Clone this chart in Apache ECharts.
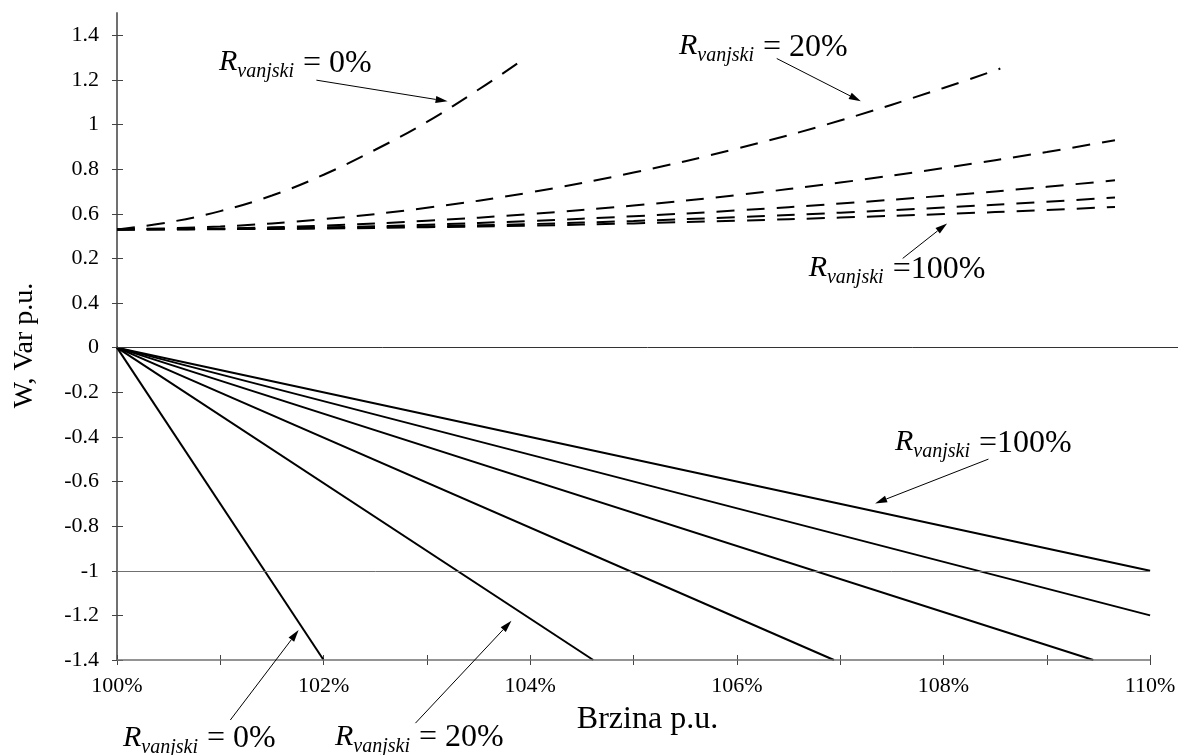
<!DOCTYPE html>
<html>
<head>
<meta charset="utf-8">
<script src="https://cdn.jsdelivr.net/npm/echarts@6/dist/echarts.min.js"></script>
<style>
    html, body { margin: 0; padding: 0; background: #fff; }
    #main { width: 1185px; height: 755px; }
</style>
</head>
<body>
<div id="main"></div>
<script>
// jalova snaga (isprekidano) - brzina u %, vrijednost u p.u.
const speedQ0 = [100, 100.5, 101, 101.5, 102, 102.5, 103, 103.5, 103.88];
const varQ0 = [0.53, 0.562, 0.612, 0.682, 0.775, 0.887, 1.012, 1.157, 1.275];
const speedQ20 = [100, 101, 102, 103, 104, 105, 106, 107, 108, 108.55];
const varQ20 = [0.53, 0.543, 0.576, 0.627, 0.696, 0.785, 0.892, 1.018, 1.164, 1.251];
const speedQrest = [100, 101, 102, 103, 104, 105, 106, 107, 108, 109, 109.66];
const varQ3 = [0.53, 0.534, 0.547, 0.569, 0.599, 0.637, 0.684, 0.740, 0.805, 0.877, 0.93];
const varQ4 = [0.53, 0.532, 0.539, 0.551, 0.568, 0.589, 0.615, 0.646, 0.681, 0.721, 0.75];
const varQ5 = [0.53, 0.532, 0.536, 0.544, 0.554, 0.568, 0.585, 0.605, 0.628, 0.654, 0.673];
const varQ6 = [0.53, 0.531, 0.534, 0.540, 0.547, 0.557, 0.569, 0.583, 0.599, 0.617, 0.631];

// radna snaga (puna linija) - pravci iz (100%, 0)
const wStart = [100, 0];
const wEndSpeed = [102, 104.61, 106.94, 109.45, 110, 110];
const wEndVal = [-1.4, -1.4, -1.4, -1.4, -1.2, -1.0];

// osi
const xTickValues = [100, 101, 102, 103, 104, 105, 106, 107, 108, 109, 110];
const xLabelValues = [100, 102, 104, 106, 108, 110];
const yTickValues = [-1.4, -1.2, -1, -0.8, -0.6, -0.4, -0.2, 0, 0.2, 0.4, 0.6, 0.8, 1, 1.2, 1.4];
const yTickLabels = ['-1.4', '-1.2', '-1', '-0.8', '-0.6', '-0.4', '-0.2', '0', '0.4', '0.2', '0.6', '0.8', '1', '1.2', '1.4'];

// oznake R_vanjski sa strelicama
const notes = [
    { label: '= 0%',  text: [100.987, 1.279],   from: [101.93, 1.199],   to: [103.20, 1.104] },
    { label: '= 20%', text: [105.44, 1.351],    from: [106.386, 1.296],  to: [107.20, 1.104] },
    { label: '=100%', text: [106.695, 0.356],   from: [107.605, 0.400],  to: [108.035, 0.557] },
    { label: '=100%', text: [107.531, -0.4256], from: [108.435, -0.4996], to: [107.338, -0.698] },
    { label: '= 0%',  text: [100.058, -1.7496], from: [101.097, -1.669], to: [101.758, -1.266] },
    { label: '= 20%', text: [102.110, -1.745],  from: [102.889, -1.683], to: [103.818, -1.2245] }
];

const SERIF = '"Liberation Serif", "Times New Roman", serif';
const AXIS_GRAY = '#707070';

function pairs(xs, ys) {
    return xs.map(function (x, i) { return [x, ys[i]]; });
}

const dashedSets = [
    pairs(speedQ0, varQ0),
    pairs(speedQ20, varQ20),
    pairs(speedQrest, varQ3),
    pairs(speedQrest, varQ4),
    pairs(speedQrest, varQ5),
    pairs(speedQrest, varQ6)
];

const series = [];
wEndSpeed.forEach(function (x, i) {
    series.push({
        type: 'line',
        data: [wStart, [x, wEndVal[i]]],
        showSymbol: false,
        silent: true,
        lineStyle: { color: '#000', width: 2 }
    });
});
dashedSets.forEach(function (d) {
    series.push({
        type: 'line',
        data: d,
        smooth: 0.4,
        showSymbol: false,
        silent: true,
        lineStyle: { color: '#000', width: 2, type: [18, 12] }
    });
});

// referentne linije i donja os
series[0].markLine = {
    silent: true,
    symbol: 'none',
    label: { show: false },
    emphasis: { disabled: true },
    data: [
        [{ coord: [100, 0], lineStyle: { color: '#333', width: 1, type: 'solid' } }, { coord: [110.27, 0] }],
        [{ coord: [100, -1], lineStyle: { color: AXIS_GRAY, width: 1, type: 'solid' } }, { coord: [110, -1] }],
        [{ coord: [100, -1.4], lineStyle: { color: AXIS_GRAY, width: 1.5, type: 'solid' } }, { coord: [110, -1.4] }]
    ]
};

const option = {
    backgroundColor: '#fff',
    animation: false,
    grid: { left: 117, right: 7, top: 13, bottom: 95, outerBoundsMode: 'none' },
    xAxis: [{
        type: 'value',
        min: 100,
        max: 110.27,
        name: 'Brzina p.u.',
        nameLocation: 'middle',
        nameGap: 44,
        nameTextStyle: { fontFamily: SERIF, fontSize: 32, color: '#000' },
        axisLine: { show: false, onZero: false },
        axisTick: { show: true, length: 5, customValues: xTickValues, lineStyle: { color: '#444' } },
        axisLabel: {
            customValues: xLabelValues,
            margin: 15,
            fontFamily: SERIF,
            fontSize: 22,
            color: '#000',
            formatter: function (v) { return v + '%'; }
        },
        splitLine: { show: false }
    }, {
        type: 'value',
        min: 100,
        max: 110.27,
        position: 'bottom',
        axisLine: { show: false, onZero: false },
        axisTick: { show: true, inside: true, length: 5, customValues: xTickValues, lineStyle: { color: '#444' } },
        axisLabel: { show: false },
        splitLine: { show: false }
    }],
    yAxis: [{
        type: 'value',
        min: -1.4,
        max: 1.5,
        name: 'W, Var p.u.',
        nameLocation: 'middle',
        nameGap: 78,
        nameTextStyle: { fontFamily: SERIF, fontSize: 28, color: '#000', padding: [0, 18, 0, 0] },
        axisLine: { show: true, onZero: false, lineStyle: { color: AXIS_GRAY, width: 2 } },
        axisTick: { show: true, length: 5, customValues: yTickValues, lineStyle: { color: '#444' } },
        axisLabel: {
            customValues: yTickValues,
            margin: 18,
            fontFamily: SERIF,
            fontSize: 22,
            color: '#000',
            formatter: function (v) {
                const i = yTickValues.findIndex(function (t) { return Math.abs(t - v) < 1e-6; });
                return i < 0 ? '' : yTickLabels[i];
            }
        },
        splitLine: { show: false }
    }, {
        type: 'value',
        min: -1.4,
        max: 1.5,
        position: 'left',
        axisLine: { show: false, onZero: false },
        axisTick: { show: true, inside: true, length: 6, customValues: yTickValues, lineStyle: { color: '#444' } },
        axisLabel: { show: false },
        splitLine: { show: false }
    }],
    series: series
};

const chart = echarts.init(document.getElementById('main'));
chart.setOption(option);

// oznake se crtaju u pikselima preracunatim iz koordinata grafa
const toPx = function (p) { return chart.convertToPixel({ gridIndex: 0 }, p); };
const graphics = [];
notes.forEach(function (n) {
    const t = toPx(n.text);
    graphics.push({
        type: 'text',
        x: t[0],
        y: t[1],
        z: 100,
        style: {
            text: '{r|R}{s|vanjski}{e|' + n.label + '}',
            align: 'left',
            verticalAlign: 'middle',
            textAlign: 'left',
            textVerticalAlign: 'middle',
            fill: '#000',
            rich: {
                r: { font: 'italic 30px ' + SERIF, fill: '#000', lineHeight: 42 },
                s: { font: 'italic 20px ' + SERIF, fill: '#000', lineHeight: 42, padding: [19, 0, 0, 0] },
                e: { font: '32px ' + SERIF, fill: '#000', lineHeight: 42, padding: [2, 0, 0, 9] }
            }
        }
    });
    const a = toPx(n.from);
    const b = toPx(n.to);
    const dx = b[0] - a[0], dy = b[1] - a[1];
    const len = Math.sqrt(dx * dx + dy * dy);
    const ux = dx / len, uy = dy / len;
    const bx = b[0] - ux * 12, by = b[1] - uy * 12;
    graphics.push({
        type: 'line',
        z: 100,
        shape: { x1: a[0], y1: a[1], x2: bx, y2: by },
        style: { stroke: '#000', lineWidth: 1 }
    });
    graphics.push({
        type: 'polygon',
        z: 100,
        shape: { points: [[b[0], b[1]], [bx - uy * 3.5, by + ux * 3.5], [bx + uy * 3.5, by - ux * 3.5]] },
        style: { fill: '#000' }
    });
});
chart.setOption({ graphic: graphics });
</script>
</body>
</html>
